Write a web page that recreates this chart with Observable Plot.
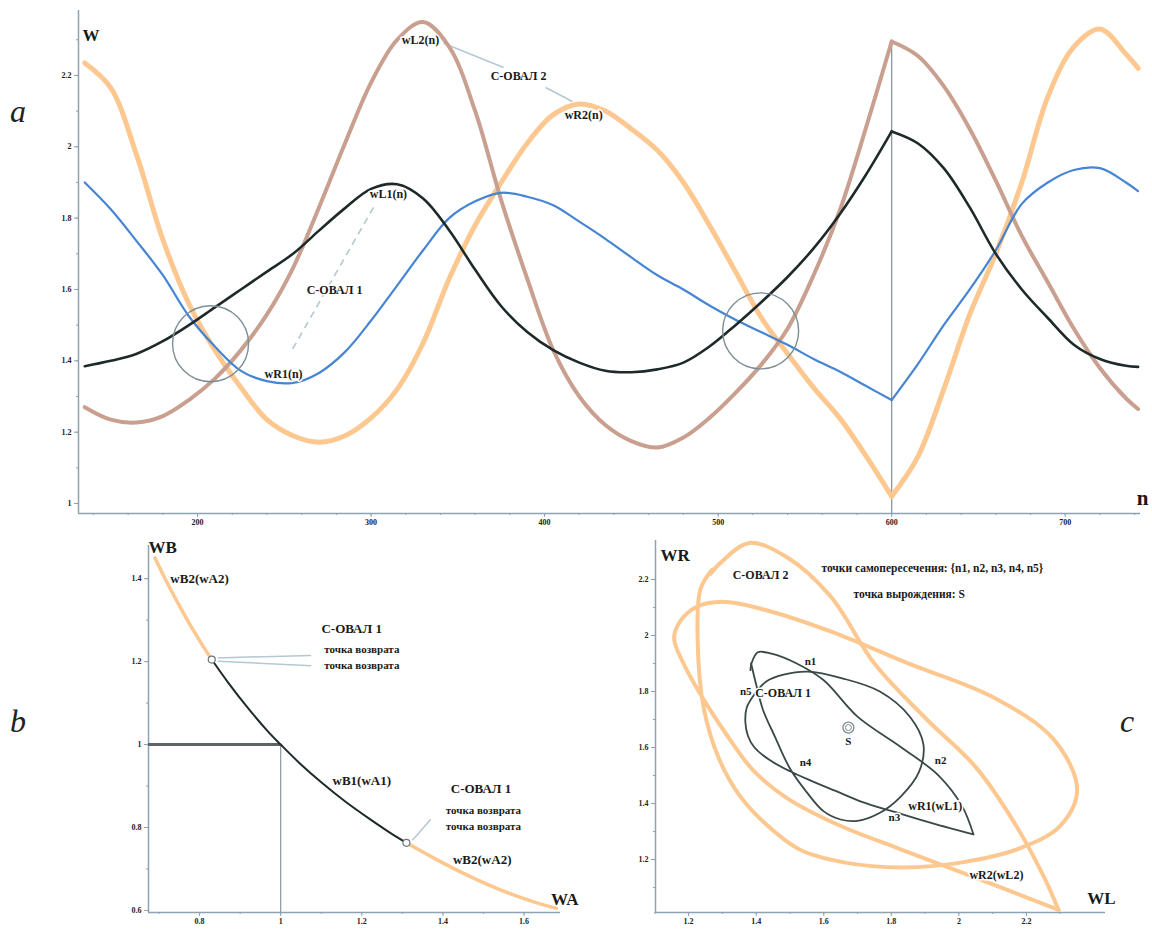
<!DOCTYPE html>
<html><head><meta charset="utf-8">
<script src="https://cdn.jsdelivr.net/npm/d3@7"></script>
<script src="https://cdn.jsdelivr.net/npm/@observablehq/plot@0.6"></script>
<style>
body{margin:0;background:#fff;}
#root{position:relative;width:1152px;height:931px;overflow:hidden;background:#fff;}
.panel{position:absolute;}
.panel svg{overflow:visible;}
.letter{position:absolute;font-family:"Liberation Serif",serif;font-style:italic;font-size:32px;color:#222;line-height:1;}
</style></head><body><div id="root"></div>
<script>
// ---------- Panel a data: W(n) ----------
const nVals = [135,150,165,180,195,210,225,240,255,270,285,300,315,330,345,360,375,390,405,420,435,450,465,480,495,510,525,540,555,570,585,600,615,630,645,660,675,690,705,720,735,742];
const wL1 = [1.385,1.40,1.42,1.455,1.50,1.55,1.60,1.65,1.70,1.765,1.828,1.882,1.895,1.855,1.766,1.655,1.553,1.481,1.43,1.395,1.372,1.368,1.376,1.395,1.44,1.50,1.565,1.635,1.715,1.81,1.92,2.043,2.01,1.94,1.83,1.70,1.60,1.52,1.445,1.405,1.386,1.383];
const wR1 = [1.90,1.825,1.735,1.64,1.525,1.44,1.372,1.343,1.338,1.366,1.425,1.513,1.611,1.71,1.80,1.847,1.871,1.86,1.836,1.79,1.742,1.69,1.64,1.60,1.555,1.515,1.48,1.445,1.405,1.37,1.33,1.29,1.39,1.50,1.60,1.71,1.84,1.90,1.935,1.94,1.90,1.876];
const wL2 = [1.27,1.235,1.227,1.245,1.29,1.35,1.43,1.53,1.66,1.83,2.01,2.18,2.30,2.35,2.28,2.10,1.85,1.63,1.43,1.30,1.22,1.175,1.157,1.185,1.24,1.31,1.39,1.49,1.64,1.82,2.05,2.295,2.255,2.17,2.05,1.905,1.75,1.62,1.49,1.38,1.295,1.265];
const wR2 = [2.235,2.165,1.975,1.74,1.56,1.43,1.325,1.235,1.19,1.172,1.19,1.24,1.32,1.45,1.63,1.78,1.90,2.01,2.09,2.12,2.10,2.05,1.99,1.90,1.78,1.65,1.52,1.42,1.325,1.24,1.135,1.02,1.13,1.32,1.53,1.70,1.90,2.14,2.28,2.33,2.26,2.22];
const cuspN = 600;
const aXTicks = [200,300,400,500,600,700];
const aYTicks = [1,1.2,1.4,1.6,1.8,2,2.2];
// circled regions (n, W)
const circleN = [207.5, 524.5];
const circleW = [1.448, 1.484];
// annotations panel a
const aLabels = ["wL2(n)","С-ОВАЛ 2","wR2(n)","wL1(n)","С-ОВАЛ 1","wR1(n)"];
const aLabelN = [328.5, 385, 422.5, 310, 279, 249.6];
const aLabelW = [2.298, 2.197, 2.088, 1.866, 1.597, 1.364];

// ---------- Panel b data: WB(WA) ----------
const wA2Upper = [0.69,0.72,0.75,0.78,0.81,0.83];
const wB2Upper = [1.45,1.39,1.335,1.283,1.235,1.205];
const wA1 = [0.83,0.87,0.92,0.97,1.0,1.05,1.1,1.16,1.22,1.27,1.31];
const wB1 = [1.205,1.15,1.087,1.03,1.0,0.952,0.909,0.862,0.82,0.787,0.763];
const wA2Lower = [1.31,1.38,1.46,1.54,1.62,1.68];
const wB2Lower = [0.763,0.725,0.685,0.65,0.622,0.605];
const bXTicks = [0.8,1,1.2,1.4,1.6];
const bYTicks = [0.6,0.8,1,1.2,1.4];
const bLabels = ["wB2(wA2)","С-ОВАЛ 1","точка возврата","точка возврата","wB1(wA1)","С-ОВАЛ 1","точка возврата","точка возврата","wB2(wA2)"];
const bLabelA = [0.80,1.175,1.2,1.2,1.2,1.494,1.5,1.5,1.497];
const bLabelB = [1.40,1.28,1.23,1.19,0.913,0.894,0.842,0.802,0.723];

// ---------- Panel c ----------
const cXTicks = [1.2,1.4,1.6,1.8,2,2.2];
const cYTicks = [1.2,1.4,1.6,1.8,2,2.2];
const cLabels = ["С-ОВАЛ 2","n1","n5","n4","n2","n3","wR1(wL1)","wR2(wL2)","S"];
const cLabelL = [1.413,1.561,1.369,1.546,1.946,1.809,1.93,2.111,1.673];
const cLabelR = [2.214,1.907,1.80,1.546,1.554,1.35,1.389,1.146,1.621];
const cLegend = ["точки самопересечения: {n1, n2, n3, n4, n5}","точка вырождения: S"];
const cLegendL = [1.593,1.688];
const cLegendR = [2.239,2.146];
const cOval1Label = "С-ОВАЛ 1";
const sPointL = 1.673, sPointR = 1.671;

// ---------- styling ----------
const C_BLACK = "#1e2a2a", C_BLUE = "#4585d3", C_BROWN = "#c9a090", C_ORANGE = "#fcc890";
const C_AXIS = "#8da2b2", C_LEAD = "#b4c8d2";
const SERIF = "Liberation Serif, Times New Roman, serif";
const root = document.getElementById("root");

const rows = nVals.map((n,i)=>({n, wL1:wL1[i], wR1:wR1[i], wL2:wL2[i], wR2:wR2[i]}));
const segRows = [
  ...rows.filter(d=>d.n<=cuspN).map(d=>({...d, seg:0})),
  ...rows.filter(d=>d.n>=cuspN).map(d=>({...d, seg:1}))
];
const fmt = d => String(d);

function axesMarks(xd, yd, xt, yt, xMinor, yMinor){
  return [
    Plot.ruleX([xd[0]], {stroke: C_AXIS, strokeWidth: 1.5}),
    Plot.ruleY([yd[0]], {stroke: C_AXIS, strokeWidth: 1.5}),
    Plot.axisX(xt, {tickSize: 4, stroke: C_AXIS, tickFormat: fmt, fontSize: 8, fontWeight: "bold", fontFamily: SERIF, fill: "#222", tickPadding: 2}),
    Plot.axisY(yt, {tickSize: 4, stroke: C_AXIS, tickFormat: fmt, fontSize: 8, fontWeight: "bold", fontFamily: SERIF, fill: "#222", tickPadding: 3}),
    Plot.axisX(xMinor, {tickSize: 2, stroke: C_AXIS, text: null}),
    Plot.axisY(yMinor, {tickSize: 2, stroke: C_AXIS, text: null})
  ];
}
const txt = (extra) => Object.assign({fontFamily: SERIF, fontWeight: "bold", fill: "#1a1a1a", stroke: "white", strokeWidth: 3, fontSize: 12}, extra);

function place(el, left, top){ const d = document.createElement("div"); d.className="panel"; d.style.left=left+"px"; d.style.top=top+"px"; d.appendChild(el); root.appendChild(d); }

// ---------- Panel a ----------
const aX = [131.4, 743.4], aY = [0.972, 2.382];
const aMinorX = d3.range(140, 741, 20);
const aMinorY = d3.range(1.1, 2.35, 0.1).map(v=>+v.toFixed(2));
const circles = circleN.map((n,i)=>({n, w: circleW[i]}));
const aAnn = aLabels.map((t,i)=>({t, n:aLabelN[i], w:aLabelW[i]}));
const leaders = [
  {n1:341.8, w1:2.29, n2:376.4, w2:2.222, dash:null},
  {n1:400.6, w1:2.166, n2:416, w2:2.127, dash:null},
  {n1:301.4, w1:1.83, n2:253.6, w2:1.423, dash:"6,4"}
];
const plotA = Plot.plot({
  width: 1152, height: 525,
  marginLeft: 78, marginRight: 12, marginTop: 10, marginBottom: 12,
  x: {domain: aX}, y: {domain: aY},
  marks: [
    ...axesMarks(aX, aY, aXTicks, aYTicks, aMinorX, aMinorY),
    Plot.ruleX([cuspN], {y1: aY[0], y2: wL2[nVals.indexOf(cuspN)], stroke: "#8a979c", strokeWidth: 1.3}),
    Plot.link(leaders.filter(d=>!d.dash), {x1:"n1", y1:"w1", x2:"n2", y2:"w2", stroke: C_LEAD, strokeWidth: 1.6}),
    Plot.link(leaders.filter(d=>d.dash), {x1:"n1", y1:"w1", x2:"n2", y2:"w2", stroke: C_LEAD, strokeWidth: 1.6, strokeDasharray: "7,5"}),
    Plot.line(segRows, {x:"n", y:"wR2", z:"seg", stroke: C_ORANGE, strokeWidth: 5, curve: "catmull-rom"}),
    Plot.line(segRows, {x:"n", y:"wL2", z:"seg", stroke: C_BROWN, strokeWidth: 4, curve: "catmull-rom"}),
    Plot.line(segRows, {x:"n", y:"wR1", z:"seg", stroke: C_BLUE, strokeWidth: 2.2, curve: "catmull-rom"}),
    Plot.line(segRows, {x:"n", y:"wL1", z:"seg", stroke: C_BLACK, strokeWidth: 2.6, curve: "catmull-rom"}),
    Plot.dot(circles, {x:"n", y:"w", r: 38, stroke: "#7d8f96", strokeWidth: 1.4, fill: "none"}),
    Plot.text(aAnn, txt({x:"n", y:"w", text:"t"})),
    Plot.text(["W"], txt({frameAnchor:"top-left", textAnchor:"start", dx: 4, dy: 18, fontSize: 17, stroke: null})),
    Plot.text(["n"], txt({frameAnchor:"bottom-right", textAnchor:"end", dx: 8, dy: -9, fontSize: 21, stroke: null}))
  ]
});
place(plotA, 0, 0);

// ---------- Panel b ----------
const bX = [0.674, 1.69], bY = [0.595, 1.48];
const bRows = [
  ...wA2Upper.map((a,i)=>({a, b:wB2Upper[i], s:"u"})),
  ...wA2Lower.map((a,i)=>({a, b:wB2Lower[i], s:"l"}))
];
const b1Rows = wA1.map((a,i)=>({a, b:wB1[i]}));
const bCusps = [b1Rows[0], b1Rows[b1Rows.length-1]];
const bAnn = bLabels.map((t,i)=>({t, a:bLabelA[i], b:bLabelB[i]}));
const bLeads = [
  {a1: bCusps[0].a+0.015, b1: bCusps[0].b+0.004, a2: 1.075, b2: 1.215},
  {a1: bCusps[0].a+0.015, b1: bCusps[0].b-0.004, a2: 1.075, b2: 1.19},
  {a1: bCusps[1].a+0.015, b1: bCusps[1].b+0.006, a2: 1.37, b2: 0.82}
];
const plotB = Plot.plot({
  width: 480, height: 406,
  marginLeft: 48, marginRight: 20, marginTop: 20, marginBottom: 19,
  x: {domain: bX}, y: {domain: bY},
  marks: [
    ...axesMarks(bX, bY, bXTicks, bYTicks, d3.range(0.7,1.7,0.1).map(v=>+v.toFixed(2)), d3.range(0.7,1.48,0.1).map(v=>+v.toFixed(2))),
    Plot.ruleY([1], {x1: bX[0], x2: 1, stroke: "#5d6468", strokeWidth: 3}),
    Plot.ruleX([1], {y1: bY[0], y2: 1, stroke: "#8a979c", strokeWidth: 1.2}),
    Plot.link(bLeads, {x1:"a1", y1:"b1", x2:"a2", y2:"b2", stroke: C_LEAD, strokeWidth: 1.5}),
    Plot.line(bRows, {x:"a", y:"b", z:"s", stroke: C_ORANGE, strokeWidth: 3.5, curve: "catmull-rom"}),
    Plot.line(b1Rows, {x:"a", y:"b", stroke: C_BLACK, strokeWidth: 2, curve: "catmull-rom"}),
    Plot.dot(bCusps, {x:"a", y:"b", r: 3.5, stroke: "#6a777c", fill: "white", strokeWidth: 1.2}),
    Plot.text(bAnn, txt({x:"a", y:"b", text:"t", fontSize: d => d.t.startsWith("точка") ? 11 : 13})),
    Plot.text(["WB"], txt({frameAnchor:"top-left", textAnchor:"start", dx: 0, dy: -5, fontSize: 17, stroke: null})),
    Plot.text(["WA"], txt({frameAnchor:"bottom-right", textAnchor:"end", dx: 18, dy: -8, fontSize: 17, stroke: null}))
  ]
});
place(plotB, 100, 525);

// ---------- Panel c ----------
const cX = [1.102, 2.434], cY = [1.011, 2.339];
const cAnn = cLabels.map((t,i)=>({t, l:cLabelL[i], r:cLabelR[i]}));
const cLeg = cLegend.map((t,i)=>({t, l:cLegendL[i], r:cLegendR[i]}));
const plotC = Plot.plot({
  width: 552, height: 406,
  marginLeft: 55, marginRight: 47, marginTop: 15, marginBottom: 19,
  x: {domain: cX}, y: {domain: cY},
  marks: [
    ...axesMarks(cX, cY, cXTicks, cYTicks, d3.range(1.1,2.4,0.1).map(v=>+v.toFixed(2)), d3.range(1.1,2.3,0.1).map(v=>+v.toFixed(2))),
    Plot.line(segRows, {x:"wL2", y:"wR2", z:"seg", stroke: C_ORANGE, strokeWidth: 4, curve: "catmull-rom"}),
    Plot.line(segRows, {x:"wL1", y:"wR1", z:"seg", stroke: "#3a4848", strokeWidth: 1.8, curve: "catmull-rom"}),
    Plot.dot([{l:sPointL, r:sPointR}], {x:"l", y:"r", r: 5.5, stroke: "#7d8a8e", fill: "none", strokeWidth: 1.3}),
    Plot.dot([{l:sPointL, r:sPointR}], {x:"l", y:"r", r: 3, stroke: "#7d8a8e", fill: "none", strokeWidth: 1}),
    Plot.text(cAnn, txt({x:"l", y:"r", text:"t", fontSize: d => d.t.length > 3 ? 12 : 11})),
    Plot.text([{t:cOval1Label, l:cLabelL[2]+0.028, r:cLabelR[2]-0.007}], txt({x:"l", y:"r", text:"t", textAnchor:"start", fontSize: 12})),
    Plot.text(cLeg, txt({x:"l", y:"r", text:"t", textAnchor:"start", fontSize: 11.5})),
    Plot.text(["WR"], txt({frameAnchor:"top-left", textAnchor:"start", dx: 5, dy: 8, fontSize: 17, stroke: null})),
    Plot.text(["WL"], txt({frameAnchor:"bottom-right", textAnchor:"end", dx: 10, dy: -9, fontSize: 17, stroke: null}))
  ]
});
place(plotC, 600, 525);

// panel letters
[["a",10,95],["b",10,705],["c",1120,705]].forEach(([t,l,tp])=>{
  const d=document.createElement("div"); d.className="letter"; d.textContent=t; d.style.left=l+"px"; d.style.top=tp+"px"; root.appendChild(d);
});
</script></body></html>
